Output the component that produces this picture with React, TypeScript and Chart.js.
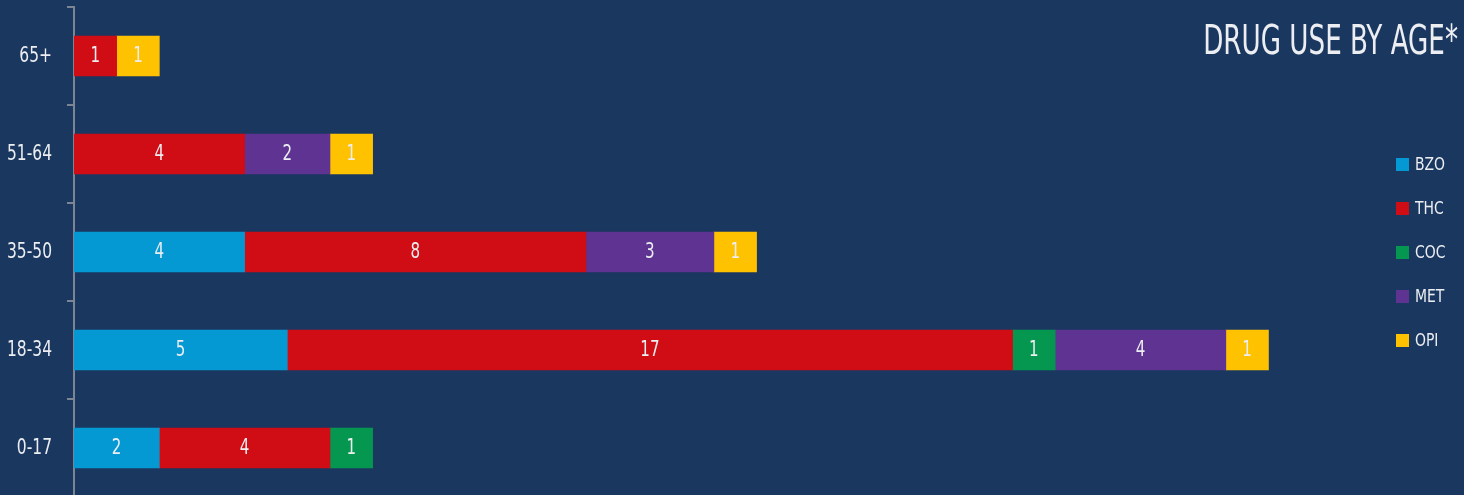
import React, { useEffect, useRef } from 'react';
import { Chart, registerables } from 'chart.js';

Chart.register(...registerables);

const AGE_GROUPS = ['65+', '51-64', '35-50', '18-34', '0-17'];
const DRUGS = ['BZO', 'THC', 'COC', 'MET', 'OPI'];
const BZO = [null, null, 4, 5, 2];
const THC = [1, 4, 8, 17, 4];
const COC = [null, null, null, 1, 1];
const MET = [null, 2, 3, 4, null];
const OPI = [1, 1, 1, 1, null];
const SERIES = [BZO, THC, COC, MET, OPI];
const COLORS = ['#0599d4', '#d00c14', '#05964f', '#5e3391', '#fec200'];
const TITLE = 'DRUG USE BY AGE*';
const X_MAX = 30;

const BG = '#1a3760';
const TEXT = '#eceef2';
const AXIS = '#7c8693';
const FONT = "'DejaVu Sans Condensed', 'Liberation Sans Narrow', sans-serif";

const W = 1464;
const H = 510;

function drawNarrow(
  ctx: CanvasRenderingContext2D,
  text: string,
  x: number,
  y: number,
  size: number,
  align: CanvasTextAlign,
  baseline: CanvasTextBaseline,
  sx: number
) {
  ctx.save();
  ctx.font = `${size}px ${FONT}`;
  ctx.textAlign = align;
  ctx.textBaseline = baseline;
  ctx.translate(x, y);
  ctx.scale(sx, 1);
  ctx.fillText(text, 0, 0);
  ctx.restore();
}

const labelsPlugin = {
  id: 'segLabels',
  afterDatasetsDraw(chart: any) {
    const ctx = chart.ctx;
    ctx.save();
    ctx.fillStyle = TEXT;
    chart.data.datasets.forEach((ds: any, di: number) => {
      const meta = chart.getDatasetMeta(di);
      meta.data.forEach((el: any, i: number) => {
        const v = ds.data[i];
        if (v == null || v === 0) return;
        const cx = (el.x + el.base) / 2;
        drawNarrow(ctx, String(v), cx, el.y + 1, 21, 'center', 'middle', 0.8);
      });
    });
    const yScale = chart.scales.y;
    chart.data.labels.forEach((lab: string, i: number) => {
      const y = yScale.getPixelForValue(i);
      drawNarrow(ctx, lab, 52, y + 1, 21, 'right', 'middle', 0.82);
    });
    ctx.restore();
  },
};

const legendTitlePlugin = {
  id: 'legendTitle',
  afterDraw(chart: any) {
    const ctx = chart.ctx;
    const area = chart.chartArea;
    ctx.save();
    ctx.fillStyle = TEXT;
    drawNarrow(ctx, TITLE, 1458, 54, 41, 'right', 'alphabetic', 0.71);

    const mid = (area.top + area.bottom) / 2;
    const step = 44;
    const n = chart.data.datasets.length;
    chart.data.datasets.forEach((ds: any, i: number) => {
      const y = mid + (i - (n - 1) / 2) * step;
      ctx.fillStyle = ds.backgroundColor;
      ctx.fillRect(1396, Math.round(y - 6.5), 13, 13);
      ctx.fillStyle = TEXT;
      drawNarrow(ctx, ds.label, 1415, y + 1, 18, 'left', 'middle', 0.86);
    });
    ctx.restore();
  },
};

export default function App() {
  const ref = useRef<HTMLCanvasElement>(null);

  useEffect(() => {
    if (!ref.current) return;
    const chart = new Chart(ref.current, {
      type: 'bar',
      data: {
        labels: AGE_GROUPS,
        datasets: DRUGS.map((d, i) => ({
          label: d,
          data: SERIES[i] as any,
          backgroundColor: COLORS[i],
          borderWidth: 0,
          barThickness: 40,
        })),
      },
      options: {
        indexAxis: 'y',
        responsive: false,
        animation: false,
        devicePixelRatio: 1,
        layout: { padding: { top: 7, bottom: 13, left: 0, right: W - (74 + X_MAX * 42.66) } },
        plugins: {
          legend: { display: false },
          tooltip: { enabled: false },
          title: { display: false },
        },
        scales: {
          x: { display: false, stacked: true, min: 0, max: X_MAX },
          y: {
            stacked: true,
            afterFit(scale: any) {
              scale.width = 74;
              scale.paddingTop = 0;
              scale.paddingBottom = 0;
            },
            border: { display: true, color: AXIS, width: 2 },
            grid: {
              display: true,
              offset: true,
              drawOnChartArea: false,
              drawTicks: true,
              tickLength: 7,
              color: AXIS,
              lineWidth: 2,
            },
            ticks: {
              display: false,
              padding: 0,
            },
          },
        },
      },
      plugins: [labelsPlugin, legendTitlePlugin],
    });
    return () => chart.destroy();
  }, []);

  return (
    <div
      style={{
        position: 'fixed',
        top: 0,
        left: 0,
        width: W,
        height: 495,
        overflow: 'hidden',
        background: BG,
      }}
    >
      <canvas ref={ref} width={W} height={H} style={{ display: 'block', width: W, height: H }} />
    </div>
  );
}
